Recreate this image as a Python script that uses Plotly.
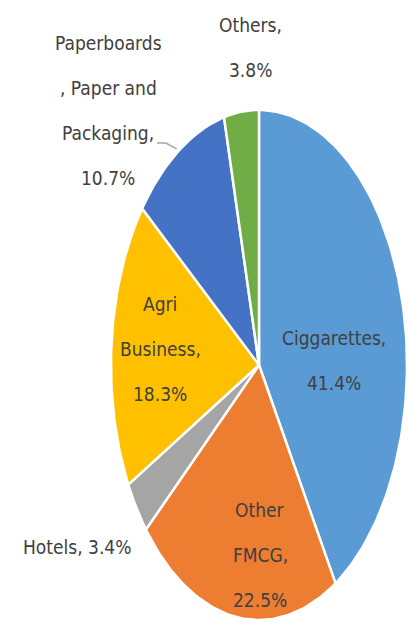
import numpy as np
import plotly.graph_objects as go

# Business segment shares (%), clockwise from 12 o'clock
segments = ["Ciggarettes", "Other FMCG", "Hotels", "Agri Business",
            "Paperboards, Paper and Packaging", "Others"]
shares = [41.4, 22.5, 3.4, 18.3, 10.7, 3.8]
colors = ["#5B9BD5", "#ED7D31", "#A5A5A5", "#FFC000", "#4472C4", "#70AD47"]

# Label text lines (the value line is appended from shares)
name_lines = [["Ciggarettes,"], ["Other", "FMCG,"], ["Hotels,"],
              ["Agri", "Business,"], ["Paperboards", ", Paper and", "Packaging,"],
              ["Others,"]]
inline_value = [False, False, True, False, False, False]

# Label placement: centre x, first-line y (pixels)
label_pos = [(334, 338), (260, 510), (77, 547), (160, 304), (108, 43), (250, 25)]
LINE_GAP = 45

W, H = 412, 623
CX, CY, RX, RY = 259, 365, 148, 255
TEXT = "#404040"
FONT = "DejaVu Sans Condensed, Liberation Sans Narrow, sans-serif"

fig = go.Figure()

total = sum(shares)
start = 0.0
mids = []
for name, v, c in zip(segments, shares, colors):
    a0 = start / total * 2 * np.pi
    a1 = (start + v) / total * 2 * np.pi
    start += v
    mids.append((a0 + a1) / 2)
    t = np.linspace(a0, a1, max(int(v * 3), 8))
    xs = np.concatenate([[CX], CX + RX * np.sin(t), [CX]])
    ys = np.concatenate([[CY], CY - RY * np.cos(t), [CY]])
    fig.add_trace(go.Scatter(
        x=xs, y=ys, mode="lines", fill="toself", fillcolor=c,
        line=dict(color="white", width=2.5), name=name,
        hoverinfo="name", showlegend=False))

# Leader line for the Paperboards label, ending at its slice edge
m = mids[4]
ex, ey = CX + RX * np.sin(m) - 2, CY - RY * np.cos(m) - 2
fig.add_trace(go.Scatter(
    x=[157, 166, ex], y=[143, 143, ey], mode="lines",
    line=dict(color="#A6A6A6", width=1.5), hoverinfo="skip", showlegend=False))

for lines, v, inline, (lx, ly) in zip(name_lines, shares, inline_value, label_pos):
    val = f"{v:.1f}%"
    if inline:
        rows = [lines[0] + " " + val]
    else:
        rows = lines + [val]
    for i, row in enumerate(rows):
        fig.add_annotation(
            x=lx, y=ly + i * LINE_GAP, text=row, showarrow=False,
            xanchor="center", yanchor="middle",
            font=dict(family=FONT, size=19, color=TEXT))

fig.update_layout(
    width=W, height=H, margin=dict(l=0, r=0, t=0, b=0),
    paper_bgcolor="white", plot_bgcolor="white",
    xaxis=dict(range=[0, W], visible=False, fixedrange=True),
    yaxis=dict(range=[H, 0], visible=False, fixedrange=True),
)

fig.write_html("out.html")
